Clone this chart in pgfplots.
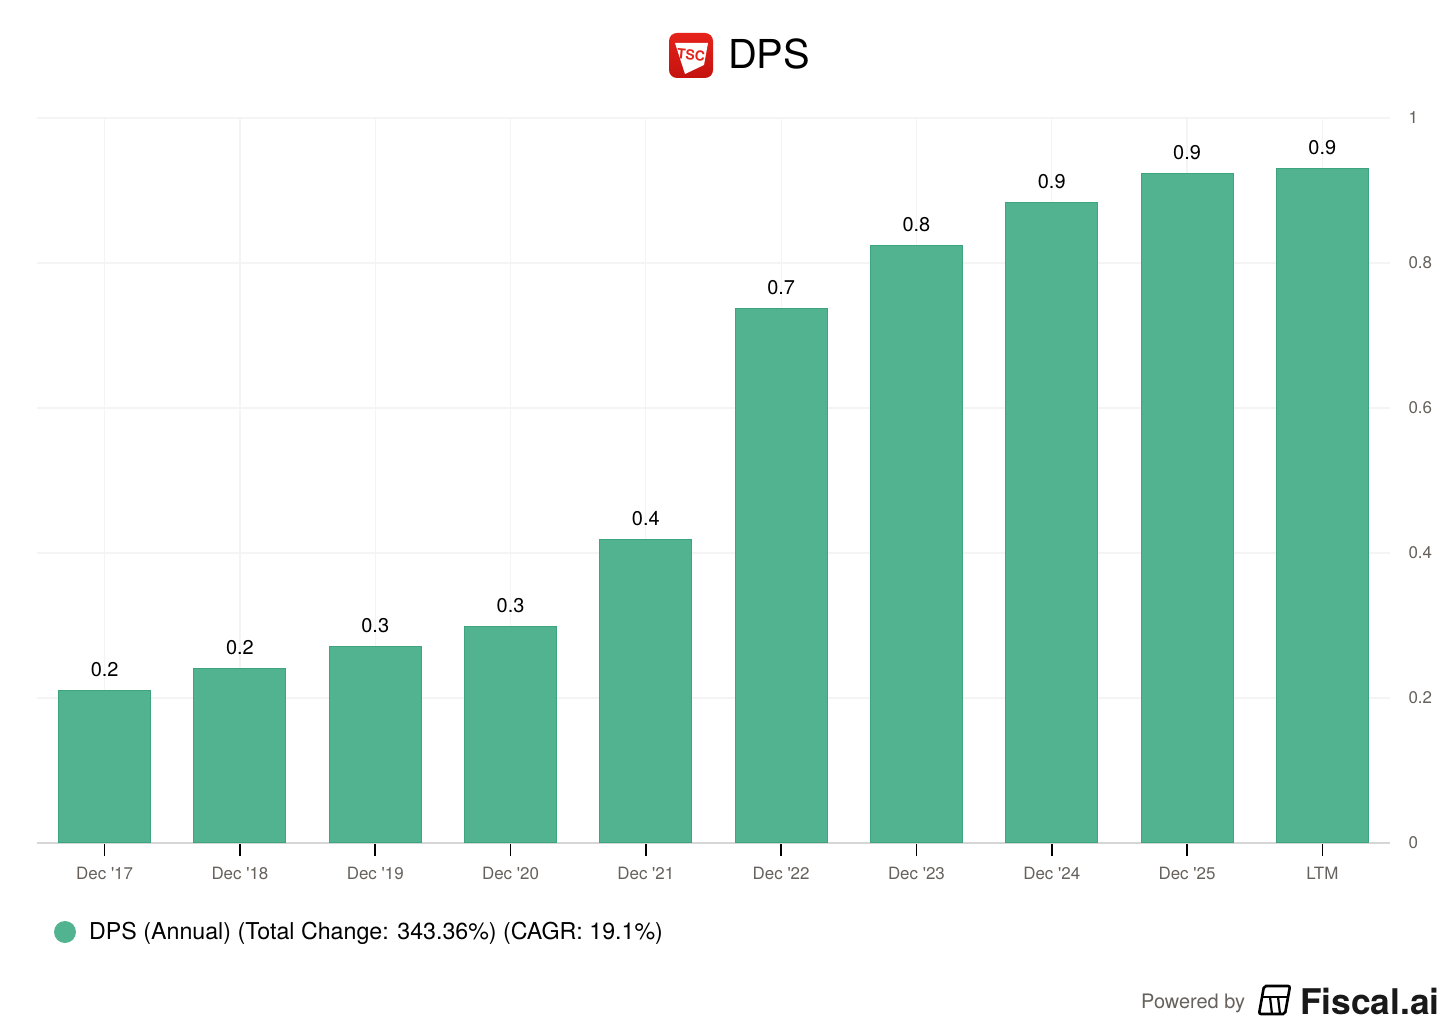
\documentclass[border=0pt]{standalone}
\usepackage{fontspec}
\setmainfont{TeX Gyre Heros}
\usepackage{pgfplots}
\usepackage{pgfplotstable}
\pgfplotsset{compat=1.18}
\definecolor{barfill}{HTML}{52B390}
\definecolor{baredge}{HTML}{3DA57E}
\definecolor{ticktext}{HTML}{66615C}
\definecolor{gridc}{HTML}{F4F4F4}
\definecolor{logored}{HTML}{E5231B}
\definecolor{logodark}{HTML}{C4120E}
\pgfplotstableread{
x y lab
0 0.2097 0.2
1 0.2400 0.2
2 0.2717 0.3
3 0.2993 0.3
4 0.4180 0.4
5 0.7366 0.7
6 0.8248 0.8
7 0.8828 0.9
8 0.9228 0.9
9 0.9310 0.9
}\dpsdata
\newcommand{\q}{\textquotesingle}
\begin{document}
\begin{tikzpicture}[x=1bp,y=1bp]
\path[fill=white] (0,0) rectangle (1456,1032);
\begin{axis}[
  at={(37bp,189bp)}, anchor=south west,
  scale only axis, width=1353bp, height=725bp,
  xmin=-0.5, xmax=9.5, ymin=0, ymax=1,
  xtick={0,...,9},
  xticklabels={Dec \q17,Dec \q18,Dec \q19,Dec \q20,Dec \q21,Dec \q22,Dec \q23,Dec \q24,Dec \q25,LTM},
  ytick={0,0.2,0.4,0.6,0.8,1},
  yticklabels={0,0.2,0.4,0.6,0.8,1},
  axis x line*=bottom, axis y line*=right,
  x axis line style={draw=black!16, line width=1.2bp},
  y axis line style={draw=none},
  xtick style={draw=black, line width=1.6bp},
  ytick style={draw=none},
  tick align=outside,
  major tick length=13bp,
  xmajorgrids, ymajorgrids,
  major grid style={draw=gridc, line width=1.2bp},
  xticklabel style={font=\fontsize{17}{20}\selectfont, text=ticktext, yshift=-8bp},
  yticklabel style={font=\fontsize{17}{20}\selectfont, text=ticktext, anchor=west, xshift=2bp},
  axis background/.style={fill=white},
  clip=false,
]
\addplot[ybar, bar width=92bp, fill=barfill, draw=baredge, line width=1bp,
  point meta=explicit symbolic,
  nodes near coords,
  every node near coord/.append style={font=\fontsize{20}{24}\selectfont, text=black, anchor=base, inner sep=0pt, yshift=14bp}]
  table[x=x, y=y, meta=lab] {\dpsdata};
\end{axis}
% title with logo
\shade[top color=logored, bottom color=logodark, rounded corners=8bp] (669,954) rectangle (713,999);
\fill[white] (675,989) -- (708,989) -- (704,967) -- (685,958) -- cycle;
\node[font=\bfseries\fontsize{14}{14}\selectfont, text=logored, inner sep=0pt, rotate=-6] at (691,977) {TSC};
\node[anchor=west, font=\fontsize{40}{44}\selectfont, inner sep=0pt] at (728,978) {DPS};
% legend
\fill[barfill] (65,100) circle (11);
\node[anchor=west, font=\fontsize{23.3}{28}\selectfont, inner sep=0pt] at (89,99) {DPS (Annual) (Total Change: 343.36\%) (CAGR: 19.1\%)};
% footer
\node[anchor=west, font=\fontsize{20}{24}\selectfont, text=ticktext, inner sep=0pt] at (1141,29) {Powered by};
\draw[line width=2.6bp, rounded corners=2bp] (1259,18) -- (1285,18) -- (1290,46) -- (1264,46) -- cycle;
\draw[line width=2.2bp] (1261,35) -- (1288,35);
\draw[line width=2.2bp] (1270,35) -- (1272,18);
\draw[line width=2.2bp] (1278,35) -- (1280,18);
\node[anchor=west, font=\bfseries\fontsize{35.5}{40}\selectfont, text=black!90, inner sep=0pt] at (1300,31) {Fiscal.ai};
\end{tikzpicture}
\end{document}
